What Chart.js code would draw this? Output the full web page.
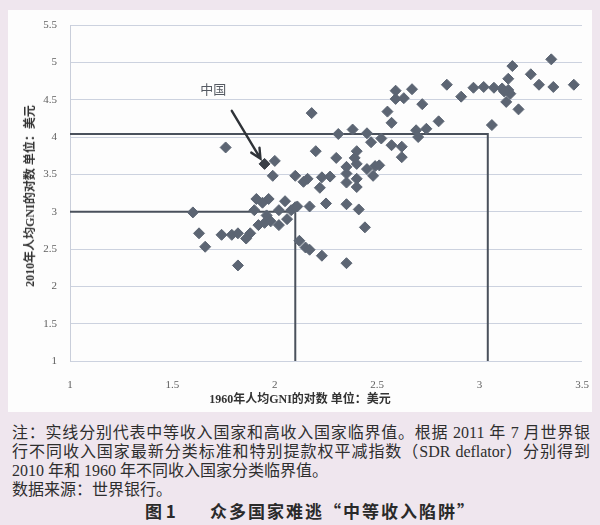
<!DOCTYPE html>
<html>
<head>
<meta charset="utf-8">
<script src="https://cdn.jsdelivr.net/npm/chart.js@4.4.0/dist/chart.umd.min.js"></script>
<style>
  html, body { margin: 0; padding: 0; }
  body {
    width: 600px; height: 525px; position: relative; overflow: hidden;
    background: #efe6ee;
    font-family: "Liberation Serif", "Noto Sans CJK SC", serif;
  }
  #panel { position: absolute; left: 8px; top: 10px; width: 584px; height: 402px; background: #fdfdfd; }
  #chart { position: absolute; left: 0; top: 0; }
  .ytitle {
    position: absolute; left: 29px; top: 196px;
    transform: translate(-50%, -50%) rotate(-90deg);
    white-space: nowrap; font-weight: bold; font-size: 12px; color: #333;
  }
  .xtitle {
    position: absolute; left: 300px; top: 398px;
    transform: translate(-50%, -50%);
    white-space: nowrap; font-weight: bold; font-size: 12px; color: #333;
  }
  .note {
    position: absolute; left: 12px; top: 423px; width: 578px;
    font-size: 16px; line-height: 19px; color: #2e2e2e;
  }
  .note .j { text-align: justify; text-align-last: justify; }
  .caption {
    position: absolute; top: 500px; left: 145px; white-space: nowrap;
    font-family: "Noto Sans CJK SC", sans-serif;
    font-size: 17px; line-height: 22px; font-weight: bold; color: #2a2a2a;
  }
  .caption .num { display: inline-block; width: 65px; }
  .caption .txt { letter-spacing: 2px; }
</style>
</head>
<body>
<div id="panel"></div>
<canvas id="chart" width="600" height="420"></canvas>
<div class="ytitle">2010年人均GNI的对数 单位：美元</div>
<div class="xtitle">1960年人均GNI的对数 单位：美元</div>
<div class="note">
  <div class="j">注：实线分别代表中等收入国家和高收入国家临界值。根据 2011 年 7 月世界银</div>
  <div class="j">行不同收入国家最新分类标准和特别提款权平减指数（SDR deflator）分别得到</div>
  <div>2010 年和 1960 年不同收入国家分类临界值。</div>
  <div>数据来源：世界银行。</div>
</div>
<div class="caption"><span class="num">图 1</span><span class="txt">众多国家难逃“中等收入陷阱”</span></div>

<script>
// log10 of GNI per capita (US$): 1960 on the x axis, 2010 on the y axis
const logGni1960 = [
  1.60, 1.63, 1.66, 1.74, 1.79, 1.82, 1.88, 1.86, 1.82, 1.76, 2.00, 1.99, 1.91,
  1.94, 1.97, 1.90, 2.02, 2.05, 2.08, 2.10, 1.92, 1.95, 1.98, 2.02, 2.06, 1.96,
  2.10, 2.14, 2.16, 2.23, 2.27, 2.22, 2.35, 2.40, 2.40, 2.35, 2.48, 2.35, 2.40,
  2.45, 2.49, 2.30, 2.39, 2.40, 2.20, 2.18, 2.31, 2.38, 2.45, 2.47, 2.52, 2.57,
  2.62, 2.62, 2.51,
  2.11, 2.17, 2.25, 2.35, 2.41, 2.44, 2.12, 2.15, 2.17, 2.23, 2.35,
  2.55, 2.57, 2.59, 2.67, 2.59, 2.63, 2.72, 2.84, 2.91, 2.97, 2.80, 2.69, 2.74,
  2.70, 3.02, 3.07, 3.11, 3.14, 3.14, 3.15, 3.13, 3.19, 3.16, 3.25, 3.35, 3.29,
  3.36, 3.46, 3.06, 3.12
];
const logGni2010 = [
  2.99, 2.71, 2.53, 2.69, 2.69, 2.71, 2.71, 2.64, 2.28, 3.86, 3.68, 3.48, 3.17,
  3.12, 3.17, 3.02, 3.02, 3.14, 3.02, 3.06, 2.82, 2.85, 2.87, 2.82, 2.90, 2.95,
  3.48, 3.40, 3.44, 3.46, 3.47, 3.32, 3.39, 3.44, 3.33, 3.51, 3.48, 3.60, 3.64,
  3.57, 3.61, 3.72, 3.72, 3.81, 3.81, 4.32, 4.04, 4.10, 4.05, 3.93, 3.98, 3.89,
  3.87, 3.73, 3.62,
  3.07, 3.07, 3.11, 3.10, 3.03, 2.79, 2.61, 2.52, 2.49, 2.41, 2.31,
  4.34, 4.19, 4.62, 4.64, 4.51, 4.52, 4.44, 4.70, 4.54, 4.66, 4.21, 4.09, 4.11,
  4.00, 4.67, 4.66, 4.65, 4.78, 4.63, 4.58, 4.47, 4.37, 4.95, 4.84, 5.04, 4.70,
  4.67, 4.70, 4.16, 4.61
];
// China
const chinaLabel = "中国";
const chinaPoint = [1.95, 3.64];

// income-group thresholds (log10 US$): [1960, 2010]
const middleIncomeThreshold = [2.10, 3.00];
const highIncomeThreshold = [3.04, 4.04];

// axis ranges and tick step
const xRange = [1, 3.5];
const yRange = [1, 5.5];
const tickStep = 0.5;

// annotation arrow, label anchor and arrow ends (data coordinates)
const chinaLabelAt = [1.70, 4.64];
const arrowFrom = [1.79, 4.35];
const arrowTo = [1.93, 3.71];

const countries = logGni1960.map((x, i) => ({ x: x, y: logGni2010[i] }));

function thresholdPath(t) {
  return [
    { x: xRange[0], y: t[1] },
    { x: t[0], y: t[1] },
    { x: t[0], y: yRange[0] }
  ];
}

const tickFont = { family: "'Liberation Serif', serif", size: 11 };
const plainNumber = v => String(Math.round(v * 10) / 10);

const chinaArrow = {
  id: 'chinaArrow',
  afterDatasetsDraw(chart) {
    const { ctx, scales: { x, y } } = chart;
    const x0 = x.getPixelForValue(arrowFrom[0]), y0 = y.getPixelForValue(arrowFrom[1]);
    const x1 = x.getPixelForValue(arrowTo[0]), y1 = y.getPixelForValue(arrowTo[1]);
    const ang = Math.atan2(y1 - y0, x1 - x0);
    const head = 11;
    ctx.save();
    ctx.strokeStyle = '#2f3338';
    ctx.lineWidth = 2.4;
    ctx.lineCap = 'round';
    ctx.beginPath();
    ctx.moveTo(x0, y0);
    ctx.lineTo(x1, y1);
    ctx.moveTo(x1 - head * Math.cos(ang - 0.45), y1 - head * Math.sin(ang - 0.45));
    ctx.lineTo(x1, y1);
    ctx.lineTo(x1 - head * Math.cos(ang + 0.45), y1 - head * Math.sin(ang + 0.45));
    ctx.stroke();
    ctx.fillStyle = '#555a62';
    ctx.font = "13px 'Noto Sans CJK SC', sans-serif";
    ctx.textAlign = 'center';
    ctx.textBaseline = 'middle';
    ctx.fillText(chinaLabel, x.getPixelForValue(chinaLabelAt[0]), y.getPixelForValue(chinaLabelAt[1]));
    ctx.restore();
  }
};

new Chart(document.getElementById('chart'), {
  type: 'scatter',
  data: {
    datasets: [
      {
        data: [{ x: chinaPoint[0], y: chinaPoint[1] }],
        pointStyle: 'rectRot', pointRadius: 5.5,
        backgroundColor: '#3a3f47', borderColor: '#3a3f47', borderWidth: 1
      },
      {
        data: countries,
        pointStyle: 'rectRot', pointRadius: 5.5,
        backgroundColor: '#5c6573', borderColor: '#5c6573', borderWidth: 1
      },
      {
        type: 'line', data: thresholdPath(middleIncomeThreshold),
        borderColor: '#4a515c', borderWidth: 2, pointRadius: 0, fill: false, tension: 0
      },
      {
        type: 'line', data: thresholdPath(highIncomeThreshold),
        borderColor: '#4a515c', borderWidth: 2, pointRadius: 0, fill: false, tension: 0
      }
    ]
  },
  options: {
    responsive: false,
    animation: false,
    layout: { padding: { left: 0, top: 25, right: 18, bottom: 0 } },
    plugins: { legend: { display: false }, tooltip: { enabled: false } },
    scales: {
      x: {
        type: 'linear', min: xRange[0], max: xRange[1],
        ticks: { stepSize: tickStep, padding: 10, color: '#5f5f5f', font: tickFont, callback: plainNumber },
        grid: { display: false },
        border: { display: false },
        afterFit(s) { s.height = 59; }
      },
      y: {
        type: 'linear', min: yRange[0], max: yRange[1],
        ticks: { stepSize: tickStep, padding: 13, color: '#5f5f5f', font: tickFont, callback: plainNumber },
        grid: { color: '#ccd2df', lineWidth: 1, drawTicks: false },
        border: { display: true, color: '#c9ceda' },
        afterFit(s) { s.width = 70; }
      }
    }
  },
  plugins: [chinaArrow]
});
</script>
</body>
</html>
